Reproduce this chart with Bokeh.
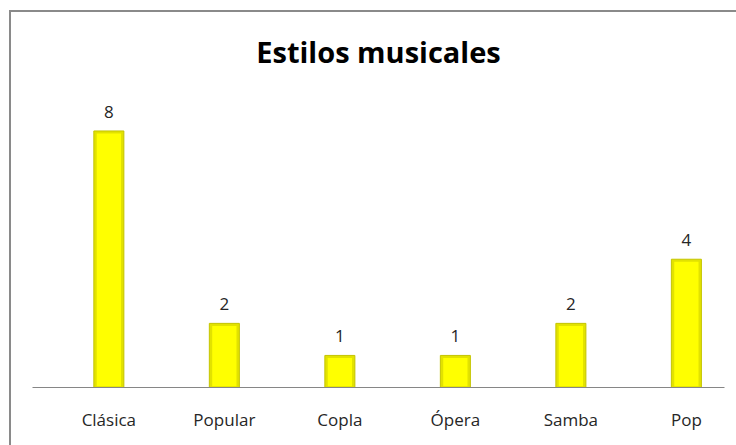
from bokeh.plotting import figure
from bokeh.models import ColumnDataSource, LabelSet, Title, Range1d, FixedTicker
from bokeh.core.properties import value
from bokeh.embed import file_html
from bokeh.resources import INLINE

categories = ["Clásica", "Popular", "Copla", "Ópera", "Samba", "Pop"]
values = [8, 2, 1, 1, 2, 4]
title_text = "Estilos musicales"

positions = list(range(len(categories)))
bevel = 0.08
src = ColumnDataSource(dict(
    x=positions,
    val=values,
    inner_top=[v - bevel for v in values],
    lbl=[str(v) for v in values],
))

p = figure(
    width=736, height=445,
    x_range=Range1d(-0.661, 5.330),
    y_range=Range1d(0, 8.95),
    output_backend="svg", toolbar_location=None, tools="",
    min_border_left=32, min_border_right=12, min_border_top=96, min_border_bottom=58,
)
p.outline_line_color = None
p.background_fill_color = None
p.border_fill_color = None
p.styles = {
    "background": "linear-gradient(#8a8a8a, #8a8a8a) 9px 10px / 2px 440px no-repeat, "
                  "linear-gradient(#8a8a8a, #8a8a8a) 9px 10px / 730px 2px no-repeat, #ffffff"
}
p.xgrid.visible = False
p.ygrid.visible = False
p.yaxis.visible = False

t = Title(text=title_text, align="center", text_font="Open Sans", text_font_style="bold",
          text_font_size="29px", text_color="#000000", standoff=59)
p.add_layout(t, "above")

ax = p.xaxis[0]
ax.ticker = FixedTicker(ticks=positions)
ax.major_label_overrides = {i: c for i, c in zip(positions, categories)}
ax.axis_line_color = "#868686"
ax.axis_line_width = 1
ax.major_tick_line_color = None
ax.minor_tick_line_color = None
ax.major_label_text_font = "Open Sans"
ax.major_label_text_font_size = "17px"
ax.major_label_text_color = "#262626"
ax.major_label_standoff = 14

p.vbar(x="x", top="val", bottom=0, width=0.26, source=src,
       fill_color="#e2e200", line_color="#c4c400", line_width=1)
p.vbar(x="x", top="inner_top", bottom=bevel / 2, width=0.21, source=src,
       fill_color="#ffff00", line_color=None)

labels = LabelSet(x="x", y="val", text="lbl", source=src, y_offset=13,
                  text_align="center", text_baseline="alphabetic",
                  text_font=value("Open Sans"), text_font_size=value("17px"),
                  text_color="#262626")
p.add_layout(labels)

open("out.html", "w").write(file_html(p, INLINE))
